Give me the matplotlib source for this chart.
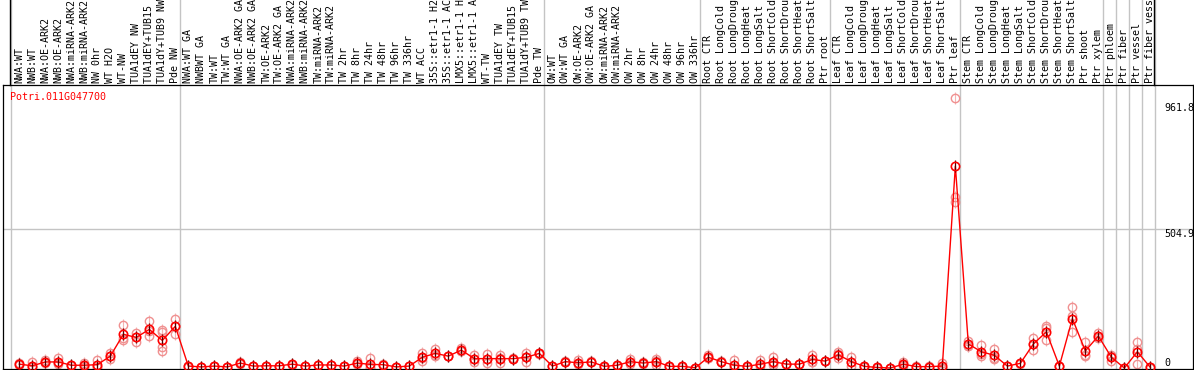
# Expression profile chart for Potri.011G047700

import matplotlib.pyplot as plt
import matplotlib.transforms as mtransforms

# Data
labels = [
    "NWA:WT", "NWB:WT", "NWA:OE-ARK2", "NWB:OE-ARK2", "NWA:miRNA-ARK2", "NWB:miRNA-ARK2",
    "NW 0hr", "WT H2O", "WT-NW", "TUA1dEY NW", "TUA1dEY+TUB15 NW", "TUA1dY+TUB9 NW", "Pde NW",
    "NWA:WT GA", "NWBWT GA", "TW:WT", "TW:WT GA", "NWA:OE-ARK2 GA", "NWB:OE-ARK2 GA",
    "TW:OE-ARK2", "TW:OE-ARK2 GA", "NWA:miRNA-ARK2 GA", "NWB:miRNA-ARK2 GA", "TW:miRNA-ARK2",
    "TW:miRNA-ARK2 GA", "TW 2hr", "TW 8hr", "TW 24hr", "TW 48hr", "TW 96hr", "TW 336hr",
    "WT ACC", "35S::etr1-1 H2O", "35S::etr1-1 ACC", "LMX5::etr1-1 H2O", "LMX5::etr1-1 ACC",
    "WT-TW", "TUA1dEY TW", "TUA1dEY+TUB15 TW", "TUA1dY+TUB9 TW", "Pde TW",
    "OW:WT", "OW:WT GA", "OW:OE-ARK2", "OW:OE-ARK2 GA", "OW:miRNA-ARK2", "OW:miRNA-ARK2 GA",
    "OW 2hr", "OW 8hr", "OW 24hr", "OW 48hr", "OW 96hr", "OW 336hr",
    "Root CTR", "Root LongCold", "Root LongDrought", "Root LongHeat", "Root LongSalt",
    "Root ShortCold", "Root ShortDrought", "Root ShortHeat", "Root ShortSalt", "Ptr root",
    "Leaf CTR", "Leaf LongCold", "Leaf LongDrought", "Leaf LongHeat", "Leaf LongSalt",
    "Leaf ShortCold", "Leaf ShortDrought", "Leaf ShortHeat", "Leaf ShortSalt", "Ptr leaf",
    "Stem CTR", "Stem LongCold", "Stem LongDrought", "Stem LongHeat", "Stem LongSalt",
    "Stem ShortCold", "Stem ShortDrought", "Stem ShortHeat", "Stem ShortSalt",
    "Ptr shoot", "Ptr xylem", "Ptr phloem", "Ptr fiber", "Ptr vessel", "Ptr fiber vessel",
]

means = [
    14, 8, 22, 22, 10, 10, 12, 43, 122, 111, 140, 100, 151,
    7, 4, 7, 4, 18, 7, 8, 8, 14, 7, 11, 11, 7, 18, 13, 12, 4, 7,
    39, 53, 43, 65, 34, 34, 34, 34, 39, 53,
    7, 23, 19, 22, 6, 10, 23, 18, 23, 6, 6, 1,
    39, 23, 10, 6, 14, 23, 14, 14, 31, 25,
    48, 23, 6, 2, 0, 14, 5, 5, 7, 732,
    87, 59, 46, 7, 17, 87, 131, 7, 179, 62, 116,
    39, 0, 59, 2,
]

reps = [
    [12, 17], [21, 2, 2], [29, 17, 20], [35, 14, 17], [9, 11], [19, 5, 6], [29, 4, 3],
    [56, 31, 42], [157, 101, 110], [126, 96, 111], [169, 117, 134], [137, 131, 77, 63],
    [177, 124, 152],
    [9, 5], [4, 3], [8, 6], [4, 3], [21, 15], [8, 6], [9, 7], [9, 7], [16, 12], [8, 6],
    [12, 10], [12, 10], [8, 6], [26, 14, 14], [35, 0, 4], [13, 11], [4, 3], [8, 6],
    [53, 26, 38], [69, 44, 46], [45, 42], [74, 60, 61], [47, 23, 32], [51, 19, 32],
    [47, 17, 38], [36, 32], [56, 22, 39, 40], [55, 51],
    [8, 6], [25, 21], [29, 14, 14], [24, 20], [7, 5], [11, 9], [33, 14, 22], [20, 16],
    [33, 11, 25], [7, 5], [7, 5], [1, 0],
    [47, 35, 35], [24, 22], [29, 1, 0], [7, 5], [29, 7, 7], [39, 11, 19], [15, 13],
    [15, 13], [48, 23, 22], [26, 24],
    [59, 35, 50], [41, 7, 21], [7, 5], [3, 1], [0, 0], [23, 10, 9], [6, 4], [6, 4],
    [19, 1, 1], [978, 619, 603],
    [99, 81, 81], [83, 44, 50], [68, 37, 33], [8, 6], [18, 16], [108, 65, 88],
    [152, 144, 101], [8, 6], [220, 129, 188], [95, 46, 45], [128, 108, 112],
    [47, 25, 45], [0, 0], [95, 13, 69], [3, 1],
]

group_starts = [0, 13, 41, 53, 63, 73, 84, 85, 86, 87, 88]
tick_values = [0, 504.9, 961.8]
tick_texts = ["0", "504.9", "961.8"]
gene = "Potri.011G047700"

mono = "DejaVu Sans Mono"
fs = 7.2

fig = plt.figure(figsize=(11.94, 3.70), dpi=100)
ax = fig.add_axes([3 / 1194, 1 / 370, 1190 / 1194, 284 / 370])
ax.set_xlim(-1.254, 90.28)
ax.set_ylim(-3.6, 1026)
ax.set_xticks([])
ax.set_yticks([])
for s in ax.spines.values():
    s.set_linewidth(0.9)

# grid and group separators (these run up through the label strip)
ax.axhline(504.9, color='#c4c4c4', lw=1, zorder=0)
top = 1 + 86 / 284
for k in group_starts:
    ax.axvline(k - 0.65, ymin=0, ymax=top, color='#c4c4c4', lw=1, clip_on=False, zorder=0)
for k in (group_starts[0], group_starts[-1]):
    ax.axvline(k - 0.7, ymin=1, ymax=top, color='black', lw=1, clip_on=False)

# replicates
for i, r in enumerate(reps):
    ax.plot([i] * len(r), r, linestyle='none', marker='|', ms=8, mew=0.8, color='#f4b4b4', zorder=2)
    ax.plot([i] * len(r), r, linestyle='none', marker='o', ms=6, mfc='none', mew=1,
            color='#f09090', zorder=2)

# means
xs = list(range(len(means)))
ax.plot(xs, means, color='red', lw=1, zorder=3)
ax.plot(xs, means, linestyle='none', marker='|', ms=8, mew=0.9, color='#500000', zorder=4)
ax.plot(xs, means, linestyle='none', marker='o', ms=6, mfc='none', mew=1.2, color='red', zorder=5)

# sample labels above the plot
trans = mtransforms.blended_transform_factory(ax.transData, ax.transAxes)
for i, lab in enumerate(labels):
    ax.text(i, 1 + 2 / 284, lab, transform=trans, rotation=90, ha='center', va='bottom',
            fontsize=fs, family=mono, clip_on=False)

# value labels on the right
for v, t in zip(tick_values, tick_texts):
    ax.text(88.1, v, t, va='bottom' if v == 0 else 'top', ha='left', fontsize=fs, family=mono)

ax.text(-0.7, 0.975, gene, transform=trans, color='red', ha='left', va='top',
        fontsize=fs, family=mono)

plt.savefig('out.png', dpi=100)
